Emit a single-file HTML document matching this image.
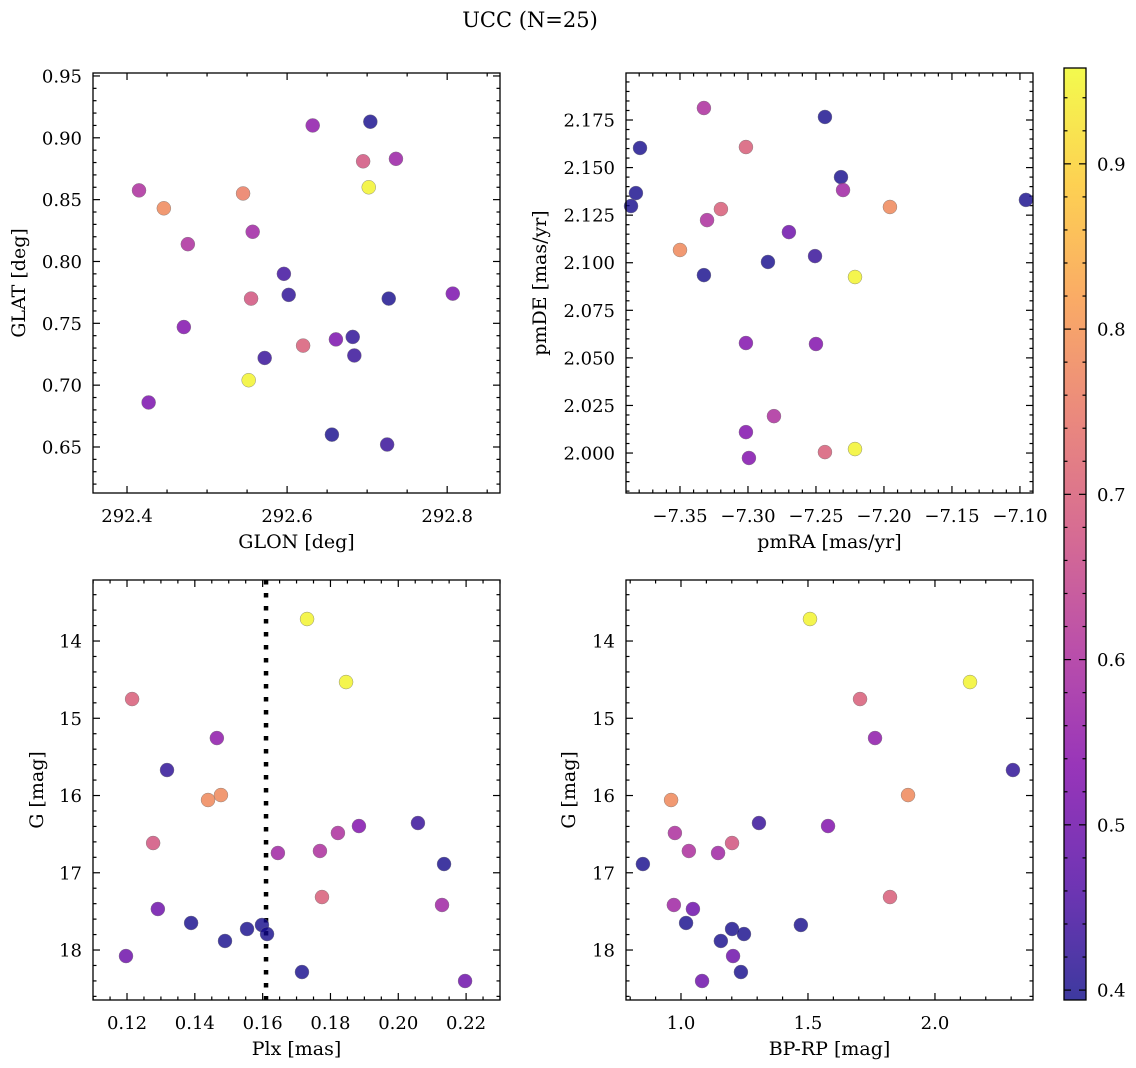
<!DOCTYPE html>
<html><head><meta charset="utf-8"><style>
html,body{margin:0;padding:0;background:#fff;}
svg{display:block;font-family:"DejaVu Serif","Liberation Serif",serif;}
</style></head><body>
<svg id="fig" width="1136" height="1068" viewBox="0 0 1136 1068" xmlns="http://www.w3.org/2000/svg">
<defs>
<linearGradient id="plasma" x1="0" y1="1" x2="0" y2="0">
<stop offset="0" stop-color="#0d0887"/><stop offset="0.125" stop-color="#4c02a1"/><stop offset="0.25" stop-color="#7e03a8"/><stop offset="0.375" stop-color="#a92395"/><stop offset="0.5" stop-color="#cc4778"/><stop offset="0.625" stop-color="#e56b5d"/><stop offset="0.75" stop-color="#f89540"/><stop offset="0.875" stop-color="#fdc527"/><stop offset="1" stop-color="#f0f921"/>
</linearGradient>
</defs>
<text x="530" y="27" font-size="21" text-anchor="middle">UCC (N=25)</text>
</svg>
<script>
// ---- data ----
const tlGlon=[292.415,292.446,292.476,292.471,292.427,292.545,292.557,292.555,292.552,292.596,292.602,292.572,292.620,292.632,292.704,292.695,292.702,292.736,292.661,292.682,292.684,292.727,292.807,292.656,292.725];
const tlGlat=[0.8575,0.843,0.814,0.747,0.686,0.855,0.824,0.770,0.704,0.790,0.773,0.722,0.732,0.910,0.913,0.881,0.860,0.883,0.737,0.739,0.724,0.770,0.774,0.660,0.652];
const tlColor=[0.6,0.78,0.6,0.53,0.52,0.76,0.58,0.68,0.95,0.44,0.42,0.43,0.7,0.55,0.4,0.68,0.95,0.57,0.52,0.42,0.43,0.4,0.52,0.4,0.43];
const trPmRA=[-7.3794,-7.3824,-7.386,-7.3324,-7.3301,-7.3199,-7.35,-7.3324,-7.3015,-7.2434,-7.2316,-7.2301,-7.2699,-7.2853,-7.2507,-7.1956,-7.0956,-7.2213,-7.3015,-7.25,-7.2809,-7.3015,-7.2993,-7.2434,-7.2213];
const trPmDE=[2.1603,2.1366,2.1298,2.1813,2.1224,2.1282,2.1067,2.0935,2.1608,2.1766,2.1450,2.1382,2.1161,2.1004,2.1035,2.1293,2.133,2.0925,2.0578,2.0573,2.0194,2.011,1.9974,2.0005,2.0021];
const trColor=[0.4,0.4,0.4,0.6,0.6,0.7,0.78,0.4,0.7,0.4,0.4,0.58,0.5,0.4,0.43,0.78,0.4,0.95,0.53,0.53,0.6,0.53,0.53,0.7,0.95];
const plx=[0.1731,0.1846,0.1215,0.1465,0.1318,0.1439,0.1477,0.1277,0.1645,0.1769,0.1822,0.1884,0.2058,0.2135,0.1775,0.2129,0.1291,0.1389,0.1489,0.1554,0.1598,0.1613,0.1197,0.1716,0.2197];
const gmag=[13.715,14.531,14.751,15.256,15.670,16.058,15.994,16.615,16.744,16.718,16.485,16.395,16.356,16.887,17.314,17.417,17.469,17.650,17.883,17.728,17.676,17.793,18.078,18.285,18.401];
const bprp=[1.508,2.138,1.705,1.764,2.307,0.961,1.894,1.201,1.146,1.031,0.976,1.579,1.307,0.850,1.823,0.972,1.047,1.020,1.157,1.201,1.472,1.248,1.205,1.236,1.083];
const bColor=[0.95,0.95,0.7,0.55,0.42,0.78,0.78,0.68,0.58,0.6,0.6,0.53,0.43,0.4,0.7,0.58,0.5,0.4,0.4,0.4,0.4,0.4,0.5,0.4,0.5];
const plxLine=[0.161];
const tlXTicks=[292.4,292.6,292.8], tlYTicks=[0.65,0.70,0.75,0.80,0.85,0.90,0.95];
const trXTicks=[-7.35,-7.30,-7.25,-7.20,-7.15,-7.10], trYTicks=[2.000,2.025,2.050,2.075,2.100,2.125,2.150,2.175];
const blXTicks=[0.12,0.14,0.16,0.18,0.20,0.22], gTicks=[14,15,16,17,18];
const brXTicks=[1.0,1.5,2.0];
const cbTicks=[0.4,0.5,0.6,0.7,0.8,0.9];

const NS='http://www.w3.org/2000/svg';
const svg=document.getElementById('fig');
function mk(tag,attrs,parent){const e=document.createElementNS(NS,tag);for(const k in attrs)e.setAttribute(k,attrs[k]);(parent||svg).appendChild(e);return e;}
const stops=[[0,[13,8,135]],[0.125,[76,2,161]],[0.25,[126,3,168]],[0.375,[169,35,149]],[0.5,[204,71,120]],[0.625,[229,107,93]],[0.75,[248,149,64]],[0.875,[253,197,39]],[1,[240,249,33]]];
const CMIN=0.394,CMAX=0.958,ALPHA=0.8;
const TF=18, LF=19;
function cmap(c){let t=(c-CMIN)/(CMAX-CMIN);t=Math.max(0,Math.min(1,t));for(let i=0;i<stops.length-1;i++){const a=stops[i],b=stops[i+1];if(t<=b[0]){const f=(t-a[0])/(b[0]-a[0]);return 'rgb('+a[1].map((v,j)=>Math.round(v+(b[1][j]-v)*f)).join(',')+')';}}return 'rgb(240,249,33)';}
function fmt(v,d){return (v<0?'\u2212':'')+Math.abs(v).toFixed(d);}

function panel(o){
  const g=mk('g',{});
  
  
  const sx=v=>o.L+(v-o.x0)/(o.x1-o.x0)*(o.R-o.L);
  const sy=o.invert?(v=>o.T+(v-o.y0)/(o.y1-o.y0)*(o.B-o.T)):(v=>o.B-(v-o.y0)/(o.y1-o.y0)*(o.B-o.T));
  const drawTicks=(ticks,step,minorN,isX,dec)=>{
    const lo=isX?o.x0:o.y0, hi=isX?o.x1:o.y1, ms=step/minorN;
    const start=Math.ceil((Math.min(lo,hi)-1e-9)/ms)*ms;
    for(let v=start;v<=Math.max(lo,hi)+1e-9;v+=ms){
      const isMaj=ticks.some(t=>Math.abs(t-v)<ms*0.1);
      const len=isMaj?7:3.5;
      if(isX){const x=sx(v);mk('line',{x1:x,x2:x,y1:o.B,y2:o.B-len,stroke:'#000','stroke-width':1.2},g);mk('line',{x1:x,x2:x,y1:o.T,y2:o.T+len,stroke:'#000','stroke-width':1.2},g);}
      else{const y=sy(v);mk('line',{y1:y,y2:y,x1:o.L,x2:o.L+len,stroke:'#000','stroke-width':1.2},g);mk('line',{y1:y,y2:y,x1:o.R,x2:o.R-len,stroke:'#000','stroke-width':1.2},g);}
    }
    ticks.forEach(v=>{
      const t=mk('text',{'font-size':TF},g);
      
      
      if(isX){t.setAttribute('x',sx(v));t.setAttribute('y',o.B+29);t.setAttribute('text-anchor','middle');}
      else{t.setAttribute('x',o.L-11);t.setAttribute('y',sy(v)+6.5);t.setAttribute('text-anchor','end');}
      t.textContent=fmt(v,dec);
    });
  };
  drawTicks(o.xt,o.xStep,o.xMinor,true,o.xDec);
  drawTicks(o.yt,o.yStep,o.yMinor,false,o.yDec);
  if(o.vline){o.vline.forEach(v=>{const l=mk('line',{x1:sx(v),x2:sx(v),y1:o.T,y2:o.B,stroke:'#000','stroke-width':4.5,'stroke-dasharray':'4.5 8.5'},g);
    
    });}
  o.xs.forEach((xv,i)=>{const c=mk('circle',{cx:sx(xv),cy:sy(o.ys[i]),r:7,fill:cmap(o.cs[i]),stroke:'#777','stroke-width':0.4,'fill-opacity':ALPHA},g);
    
    });
  const fr=mk('rect',{x:o.L,y:o.T,width:o.R-o.L,height:o.B-o.T,fill:'none',stroke:'#000','stroke-width':1.3},g);
  
  
  const xl=mk('text',{x:(o.L+o.R)/2,y:o.B+55,'font-size':LF,'text-anchor':'middle'},g);
  
  
  xl.textContent=o.xlab;
  const cy=(o.T+o.B)/2;
  const yl=mk('text',{x:o.ylx,y:cy,'font-size':LF,'text-anchor':'middle',transform:'rotate(-90 '+o.ylx+' '+cy+')'},g);
  
  
  yl.textContent=o.ylab;
}
panel({name:'glon-glat-panel',L:93,R:500,T:73,B:493,x0:292.3575,x1:292.866,y0:0.6128,y1:0.9524,xt:tlXTicks,xStep:0.2,xMinor:4,xDec:1,yt:tlYTicks,yStep:0.05,yMinor:5,yDec:2,xs:tlGlon,ys:tlGlat,cs:tlColor,xlab:'GLON [deg]',ylab:'GLAT [deg]',ylx:25});
panel({name:'pm-panel',L:626,R:1033,T:73,B:493,x0:-7.3897,x1:-7.0904,y0:1.979,y1:2.1997,xt:trXTicks,xStep:0.05,xMinor:5,xDec:2,yt:trYTicks,yStep:0.025,yMinor:5,yDec:3,xs:trPmRA,ys:trPmDE,cs:trColor,xlab:'pmRA [mas/yr]',ylab:'pmDE [mas/yr]',ylx:546});
panel({name:'plx-g-panel',L:93,R:500,T:580,B:1000,x0:0.10997,x1:0.2300,y0:13.21,y1:18.647,invert:true,xt:blXTicks,xStep:0.02,xMinor:4,xDec:2,yt:gTicks,yStep:1,yMinor:5,yDec:0,xs:plx,ys:gmag,cs:bColor,xlab:'Plx [mas]',ylab:'G [mag]',ylx:43,vline:plxLine});
panel({name:'cmd-panel',L:626,R:1033,T:580,B:1000,x0:0.7835,x1:2.386,y0:13.21,y1:18.647,invert:true,xt:brXTicks,xStep:0.5,xMinor:5,xDec:1,yt:gTicks,yStep:1,yMinor:5,yDec:0,xs:bprp,ys:gmag,cs:bColor,xlab:'BP-RP [mag]',ylab:'G [mag]',ylx:575});

// colorbar
const cb=mk('g',{});


const CT=68,CB=1000,CL=1064,CR=1086;
mk('rect',{x:CL,y:CT,width:CR-CL,height:CB-CT,fill:'url(#plasma)','fill-opacity':ALPHA},cb);
mk('rect',{x:CL,y:CT,width:CR-CL,height:CB-CT,fill:'none',stroke:'#000','stroke-width':1.3},cb);
const cy=v=>CB-(v-CMIN)/(CMAX-CMIN)*(CB-CT);
for(let v=0.4;v<=CMAX+1e-9;v+=0.02){const maj=Math.abs(v*10-Math.round(v*10))<0.01;const len=maj?7:3.5;const y=cy(v);
  mk('line',{x1:CL,x2:CL+len,y1:y,y2:y,stroke:'#000','stroke-width':1.2},cb);mk('line',{x1:CR,x2:CR-len,y1:y,y2:y,stroke:'#000','stroke-width':1.2},cb);}
cbTicks.forEach(v=>{const t=mk('text',{x:CR+11,y:cy(v)+6.5,'font-size':TF},cb);
  
  
  t.textContent=v.toFixed(1);});
</script>
</body></html>
